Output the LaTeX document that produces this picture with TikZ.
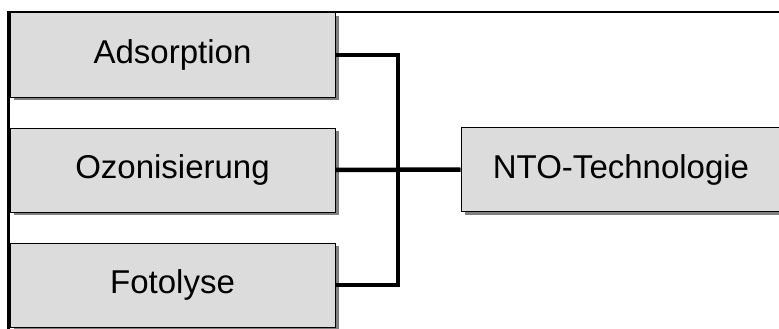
\documentclass[tikz,border=0pt]{standalone}
\usepackage{fontspec}
\setmainfont{Liberation Sans}
\usetikzlibrary{shadows}
\definecolor{boxfill}{HTML}{DCDCDC}
\definecolor{shadowgray}{HTML}{808080}
\begin{document}
\begin{tikzpicture}[x=1pt,y=-1pt,
  procbox/.style={draw=black, line width=1pt, fill=boxfill, rectangle, inner sep=0pt,
    minimum height=84pt, font=\fontsize{33}{40}\selectfont,
    drop shadow={shadow xshift=4pt, shadow yshift=-3pt, fill=shadowgray, opacity=1}},
  link/.style={line width=4.5pt, line join=miter, draw=black},
  frame/.style={line width=2.5pt, draw=black}]
\useasboundingbox (0,0) rectangle (779,329);
\begin{scope}
\clip (0,0) rectangle (779,329);
\draw[frame] (779,12) -- (8.5,12) -- (8.5,335);
\node[procbox, minimum width=325pt] (ads) at (172.5,55) {Adsorption};
\node[procbox, minimum width=325pt] (ozo) at (172.5,170) {Ozonisierung};
\node[procbox, minimum width=325pt] (fot) at (172.5,285) {Fotolyse};
\node[procbox, minimum width=320pt] (nto) at (621,169.5) {NTO-Technologie};
\coordinate (j) at (398,170);
\draw[link] (ads.east) -| (j);
\draw[link] (fot.east) -| (j);
\draw[link] (ozo.east) -- (nto.west);
\end{scope}
\end{tikzpicture}
\end{document}
